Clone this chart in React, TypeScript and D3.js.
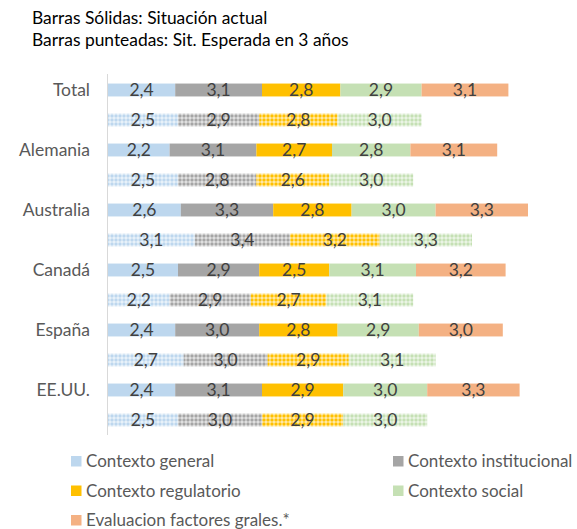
import React from "react";
import * as d3 from "d3";

const categories = ["Total", "Alemania", "Australia", "Canadá", "España", "EE.UU."];
const seriesNames = [
  "Contexto general",
  "Contexto institucional",
  "Contexto regulatorio",
  "Contexto social",
  "Evaluacion factores grales.*",
];
const colors = ["#BDD7EE", "#A5A5A5", "#FFC000", "#C5E0B4", "#F4B183"];

// Solid bars: current situation
const actual = [
  [2.4, 3.1, 2.8, 2.9, 3.1],
  [2.2, 3.1, 2.7, 2.8, 3.1],
  [2.6, 3.3, 2.8, 3.0, 3.3],
  [2.5, 2.9, 2.5, 3.1, 3.2],
  [2.4, 3.0, 2.8, 2.9, 3.0],
  [2.4, 3.1, 2.9, 3.0, 3.3],
];
// Dotted bars: expected in 3 years
const expected = [
  [2.5, 2.9, 2.8, 3.0],
  [2.5, 2.8, 2.6, 3.0],
  [3.1, 3.4, 3.2, 3.3],
  [2.2, 2.9, 2.7, 3.1],
  [2.7, 3.0, 2.9, 3.1],
  [2.5, 3.0, 2.9, 3.0],
];
const titleLines = ["Barras Sólidas: Situación actual", "Barras punteadas: Sit. Esperada en 3 años"];

const FONT = "Lato, 'Open Sans', sans-serif";

export default function App() {
  const W = 577, H = 529;
  const rows: { key: string; cat: string; vals: number[]; dotted: boolean }[] = [];
  categories.forEach((c, i) => {
    rows.push({ key: c + "-a", cat: c, vals: actual[i], dotted: false });
    rows.push({ key: c + "-e", cat: c, vals: expected[i], dotted: true });
  });
  const x = d3.scaleLinear().domain([0, 16]).range([108, 108 + 16 * 28]);
  const y = d3
    .scaleBand<string>()
    .domain(rows.map((r) => r.key))
    .range([75, 435])
    .paddingInner(0.57)
    .paddingOuter(0.285);
  const fmt = (v: number) => d3.format(".1f")(v).replace(".", ",");

  const legendItems = seriesNames.map((n, i) => ({
    name: n,
    color: colors[i],
    lx: i % 2 === 0 ? 71 : 393,
    ly: 461 + Math.floor(i / 2) * 29.5,
  }));

  return (
    <svg width={W} height={H} style={{ position: "absolute", left: 0, top: 0 }}>
      <defs>
        {colors.map((c, i) => (
          <pattern key={i} id={"pat" + i} width={4} height={4} patternUnits="userSpaceOnUse">
            <rect width={4} height={4} fill={c} />
            <rect x={0} y={1.5} width={4} height={1} fill="#fff" opacity={0.7} />
            <rect x={1.5} y={0} width={1} height={4} fill="#fff" opacity={0.7} />
            <rect x={1.5} y={1.5} width={1} height={1} fill="#fff" opacity={0.6} />
          </pattern>
        ))}
      </defs>
      <rect width={W} height={H} fill="#fff" />
      {titleLines.map((t, i) => (
        <text key={i} x={32} y={24 + i * 22} fontFamily={FONT} fontSize={17.4} fill="#000">
          {t}
        </text>
      ))}
      <line x1={107.5} x2={107.5} y1={74} y2={435} stroke="#D9D9D9" strokeWidth={1} />
      {rows.map((r) => {
        let acc = 0;
        const y0 = y(r.key)!;
        const bw = y.bandwidth();
        return (
          <g key={r.key}>
            {r.vals.map((v, j) => {
              const s = acc;
              acc += v;
              const x0 = x(s), x1 = x(acc);
              return (
                <g key={j}>
                  <rect
                    x={x0}
                    y={y0}
                    width={x1 - x0}
                    height={bw}
                    fill={r.dotted ? `url(#pat${j})` : colors[j]}
                  />
                  <text
                    x={(x0 + x1) / 2}
                    y={y0 + bw / 2}
                    dy="0.36em"
                    textAnchor="middle"
                    fontFamily={FONT}
                    fontSize={17.5}
                    fill="#404040"
                  >
                    {fmt(v)}
                  </text>
                </g>
              );
            })}
          </g>
        );
      })}
      {categories.map((c) => (
        <text
          key={c}
          x={90}
          y={y(c + "-a")! + y.bandwidth() / 2}
          dy="0.36em"
          textAnchor="end"
          fontFamily={FONT}
          fontSize={17.5}
          fill="#595959"
        >
          {c}
        </text>
      ))}
      {legendItems.map((l) => (
        <g key={l.name}>
          <rect x={l.lx} y={l.ly - 5} width={10.5} height={10.5} fill={l.color} />
          <text x={l.lx + 15} y={l.ly} dy="0.36em" fontFamily={FONT} fontSize={17} fill="#595959">
            {l.name}
          </text>
        </g>
      ))}
    </svg>
  );
}
